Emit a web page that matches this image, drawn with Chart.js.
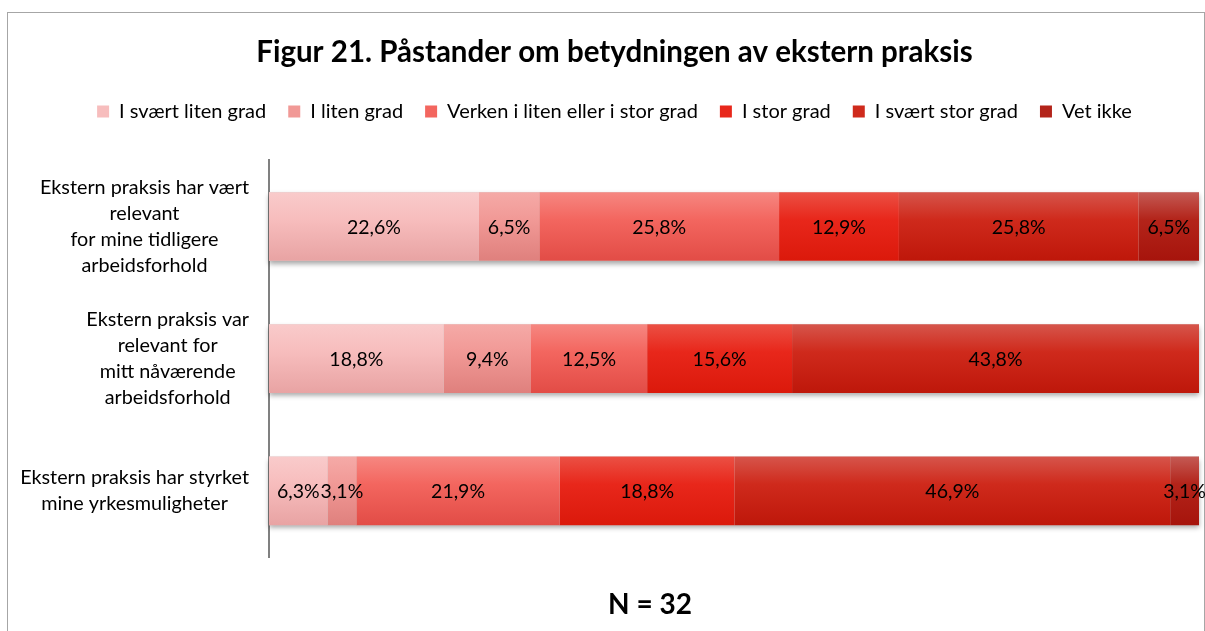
<!DOCTYPE html>
<html lang="no">
<head>
<meta charset="utf-8">
<title>Figur 21</title>
<script src="https://cdn.jsdelivr.net/npm/chart.js@4.4.0/dist/chart.umd.min.js"></script>
<style>
    html, body { margin: 0; padding: 0; background: #fff; }
    body { width: 1205px; height: 631px; position: relative; overflow: hidden; font-family: Lato, sans-serif; }
    #ramme { position: absolute; left: 7px; top: 12px; width: 1196px; height: 700px; border: 1px solid #a6a6a6; border-bottom: none; }
    #boks { position: absolute; left: 0; top: 0; width: 1205px; height: 631px; }
    #n { position: absolute; left: 550px; top: 586px; width: 200px; text-align: center; font: bold 28px Lato, sans-serif; line-height: 34px; color: #000; }
</style>
</head>
<body>
<div id="ramme"></div>
<div id="boks"><canvas id="figur"></canvas></div>
<div id="n">N = 32</div>
<script>
// --- DATA ---
const kategorier = [
    ['Ekstern praksis har vært', 'relevant', 'for mine tidligere', 'arbeidsforhold'],
    ['Ekstern praksis var', 'relevant for', 'mitt nåværende', 'arbeidsforhold'],
    ['Ekstern praksis har styrket', 'mine yrkesmuligheter']
];
const serier = ['I svært liten grad', 'I liten grad', 'Verken i liten eller i stor grad', 'I stor grad', 'I svært stor grad', 'Vet ikke'];
const svaertLiten = [22.6, 18.8, 6.3];
const liten = [6.5, 9.4, 3.1];
const verken = [25.8, 12.5, 21.9];
const stor = [12.9, 15.6, 18.8];
const svaertStor = [25.8, 43.8, 46.9];
const vetIkke = [6.5, 0, 3.1];
const verdier = [svaertLiten, liten, verken, stor, svaertStor, vetIkke];

// topp, midt, bunn
const farger = [
    ['#f9cbcb', '#f7bdbd', '#e8a3a3'],
    ['#f5aaa7', '#f19996', '#df807d'],
    ['#f68781', '#f3665f', '#e24c46'],
    ['#eb5044', '#e8271b', '#db190b'],
    ['#d6554b', '#cf2a1c', '#be170a'],
    ['#c45a54', '#b3241a', '#a6140c']
];

const andel = 0.52;
const fontNavn = 'Lato, sans-serif';

// vertikal gradient per stolpe, regnet ut fra y-skalaen
const lagGradient = (f) => (c) => {
    const chart = c.chart;
    const y = chart.scales && chart.scales.y;
    if (!chart.chartArea || !y || c.dataIndex === undefined) return f[1];
    const midt = y.getPixelForValue(c.dataIndex);
    const h = Math.abs(y.getPixelForValue(1) - y.getPixelForValue(0)) * andel;
    const g = chart.ctx.createLinearGradient(0, midt - h / 2, 0, midt + h / 2);
    g.addColorStop(0, f[0]);
    g.addColorStop(0.4, f[1]);
    g.addColorStop(1, f[2]);
    return g;
};

const formater = (v) => v.toFixed(1).replace('.', ',') + '%';

// skygge under hver stolpe + verdietiketter
const stolpePlugin = {
    id: 'stolpePlugin',
    beforeDatasetsDraw(chart) {
        const ctx = chart.ctx;
        const metas = chart.getSortedVisibleDatasetMetas();
        kategorier.forEach((_, i) => {
            let venstre = Infinity, hoyre = -Infinity, topp = 0, h = 0;
            metas.forEach(m => {
                const el = m.data[i];
                if (!el) return;
                venstre = Math.min(venstre, el.base, el.x);
                hoyre = Math.max(hoyre, el.base, el.x);
                topp = el.y - el.height / 2;
                h = el.height;
            });
            ctx.save();
            ctx.shadowColor = 'rgba(0,0,0,0.35)';
            ctx.shadowBlur = 5;
            ctx.shadowOffsetY = 3;
            ctx.fillStyle = '#d0d0d0';
            ctx.fillRect(venstre, topp, hoyre - venstre, h);
            ctx.restore();
        });
    },
    afterDatasetsDraw(chart) {
        const ctx = chart.ctx;
        ctx.save();
        ctx.font = '19.5px ' + fontNavn;
        ctx.fillStyle = '#000';
        ctx.textAlign = 'center';
        ctx.textBaseline = 'middle';
        chart.getSortedVisibleDatasetMetas().forEach(m => {
            m.data.forEach((el, i) => {
                const v = verdier[m.index][i];
                if (!v) return;
                ctx.fillText(formater(v), (el.x + el.base) / 2, el.y + 1);
            });
        });
        ctx.restore();
    }
};

// kategoritekster til venstre for aksen, sentrert linje for linje
const kategoriPlugin = {
    id: 'kategoriPlugin',
    afterDraw(chart) {
        const ctx = chart.ctx;
        const y = chart.scales.y;
        const hoyreKant = chart.chartArea.left - 20;
        const lh = 25.8;
        ctx.save();
        ctx.font = '19.8px ' + fontNavn;
        ctx.fillStyle = '#000';
        ctx.textAlign = 'center';
        ctx.textBaseline = 'middle';
        kategorier.forEach((linjer, i) => {
            const maksB = Math.max(...linjer.map(l => ctx.measureText(l).width));
            const cx = hoyreKant - maksB / 2;
            const cy = y.getPixelForValue(i);
            const start = cy - (linjer.length - 1) * lh / 2;
            linjer.forEach((l, j) => ctx.fillText(l, cx, start + j * lh));
        });
        ctx.restore();
    }
};

// ekstra luft under forklaringen
const forklaringsLuft = {
    id: 'forklaringsLuft',
    beforeInit(chart) {
        const fit = chart.legend.fit;
        chart.legend.fit = function () {
            fit.bind(chart.legend)();
            this.height += 29;
        };
    }
};

new Chart(document.getElementById('figur'), {
    type: 'bar',
    data: {
        labels: kategorier.map(k => k.join(' ')),
        datasets: serier.map((navn, i) => ({
            label: navn,
            data: verdier[i],
            backgroundColor: lagGradient(farger[i]),
            borderWidth: 0,
            barPercentage: 1,
            categoryPercentage: andel
        }))
    },
    options: {
        indexAxis: 'y',
        responsive: true,
        maintainAspectRatio: false,
        animation: false,
        layout: { padding: { left: 30, right: 6, top: 12, bottom: 74 } },
        scales: {
            x: { stacked: true, display: false, min: 0, max: 100.1 },
            y: {
                stacked: true,
                grid: { display: false },
                border: { display: true, color: '#808080', width: 2 },
                ticks: { display: false },
                afterFit: (s) => { s.width = 239; }
            }
        },
        plugins: {
            title: {
                display: true,
                text: 'Figur 21. Påstander om betydningen av ekstern praksis',
                color: '#000',
                font: { family: fontNavn, size: 29.5, weight: 'bold' },
                padding: { top: 23, bottom: 9 }
            },
            legend: {
                position: 'top',
                labels: {
                    color: '#000',
                    font: { family: fontNavn, size: 20 },
                    boxWidth: 12,
                    boxHeight: 12,
                    padding: 22,
                    generateLabels: () => serier.map((navn, i) => ({
                        text: navn,
                        fillStyle: farger[i][1],
                        strokeStyle: farger[i][1],
                        lineWidth: 0,
                        hidden: false,
                        datasetIndex: i,
                        fontColor: '#000'
                    }))
                }
            },
            tooltip: { enabled: false }
        }
    },
    plugins: [stolpePlugin, kategoriPlugin, forklaringsLuft]
});
</script>
</body>
</html>
